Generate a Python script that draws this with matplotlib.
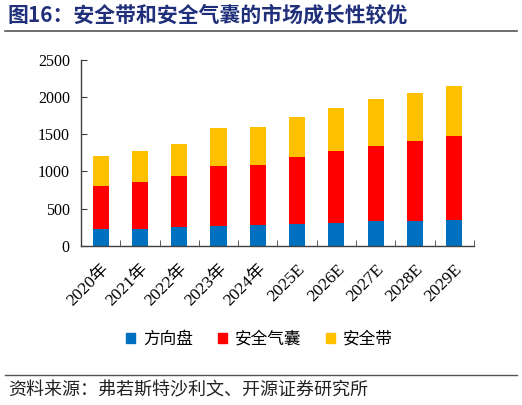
import matplotlib.pyplot as plt
from matplotlib.lines import Line2D
from matplotlib.patches import Patch
import numpy as np

years = ['2020年', '2021年', '2022年', '2023年', '2024年',
         '2025E', '2026E', '2027E', '2028E', '2029E']
steering = [225, 233, 256, 270, 283, 300, 310, 328, 337, 346]
airbag = [583, 620, 678, 799, 809, 890, 961, 1020, 1078, 1127]
seatbelt = [395, 418, 441, 521, 512, 549, 579, 620, 647, 674]
names = ['方向盘', '安全气囊', '安全带']
colors = ['#0070C0', '#FF0000', '#FFC000']

serif = ['Liberation Serif', 'Noto Sans CJK SC']
cjk = ['Noto Sans CJK SC', 'DejaVu Sans']

fig = plt.figure(figsize=(5.22, 4.05), dpi=100)
ax = fig.add_axes([0.155, 0.393, 0.753, 0.459])

x = np.arange(len(years))
w = 0.41
ax.bar(x, steering, w, color=colors[0])
ax.bar(x, airbag, w, bottom=steering, color=colors[1])
bottom2 = np.array(steering) + np.array(airbag)
ax.bar(x, seatbelt, w, bottom=bottom2, color=colors[2])

ax.set_xlim(-0.5, len(years) - 0.5)
ax.set_ylim(0, 2500)
ax.set_yticks(range(0, 2501, 500))
ax.set_yticklabels([str(v) for v in range(0, 2501, 500)], family=serif, fontsize=11.5)

# category labels, ticks sit on the boundaries
ax.set_xticks(x)
ax.set_xticklabels(years, family=serif, fontsize=12.5, rotation=45,
                   ha='right', va='top', rotation_mode='anchor')
ax.tick_params(axis='x', which='major', length=0, pad=11)
ax.set_xticks(np.arange(-0.5, len(years), 1.0)[1:], minor=True)
ax.tick_params(axis='x', which='minor', direction='in', length=4, color='#404040')
ax.tick_params(axis='y', direction='in', length=4, color='#404040', pad=8)

for s in ['top', 'right']:
    ax.spines[s].set_visible(False)
for s in ['left', 'bottom']:
    ax.spines[s].set_color('#404040')
    ax.spines[s].set_linewidth(1.0)

handles = [Patch(color=c) for c in colors]
fig.legend(handles, names, loc='center', bbox_to_anchor=(0.497, 0.162), ncol=3,
           frameon=False, prop={'family': cjk, 'size': 12},
           handlelength=0.55, handleheight=0.55, handletextpad=0.45, columnspacing=1.5)

fig.text(0.015, 0.962, '图16：安全带和安全气囊的市场成长性较优', family=cjk,
         fontsize=15, fontweight='bold', color='#1F2F7A', va='center')
fig.add_artist(Line2D([0.01, 0.99], [0.923, 0.923], color='#555555', lw=1.2))
fig.add_artist(Line2D([0.01, 0.99], [0.074, 0.074], color='#555555', lw=1.0))
fig.text(0.015, 0.036, '资料来源：弗若斯特沙利文、开源证券研究所', family=cjk,
         fontsize=13, color='#222222', va='center')

fig.savefig('out.png', dpi=100)
